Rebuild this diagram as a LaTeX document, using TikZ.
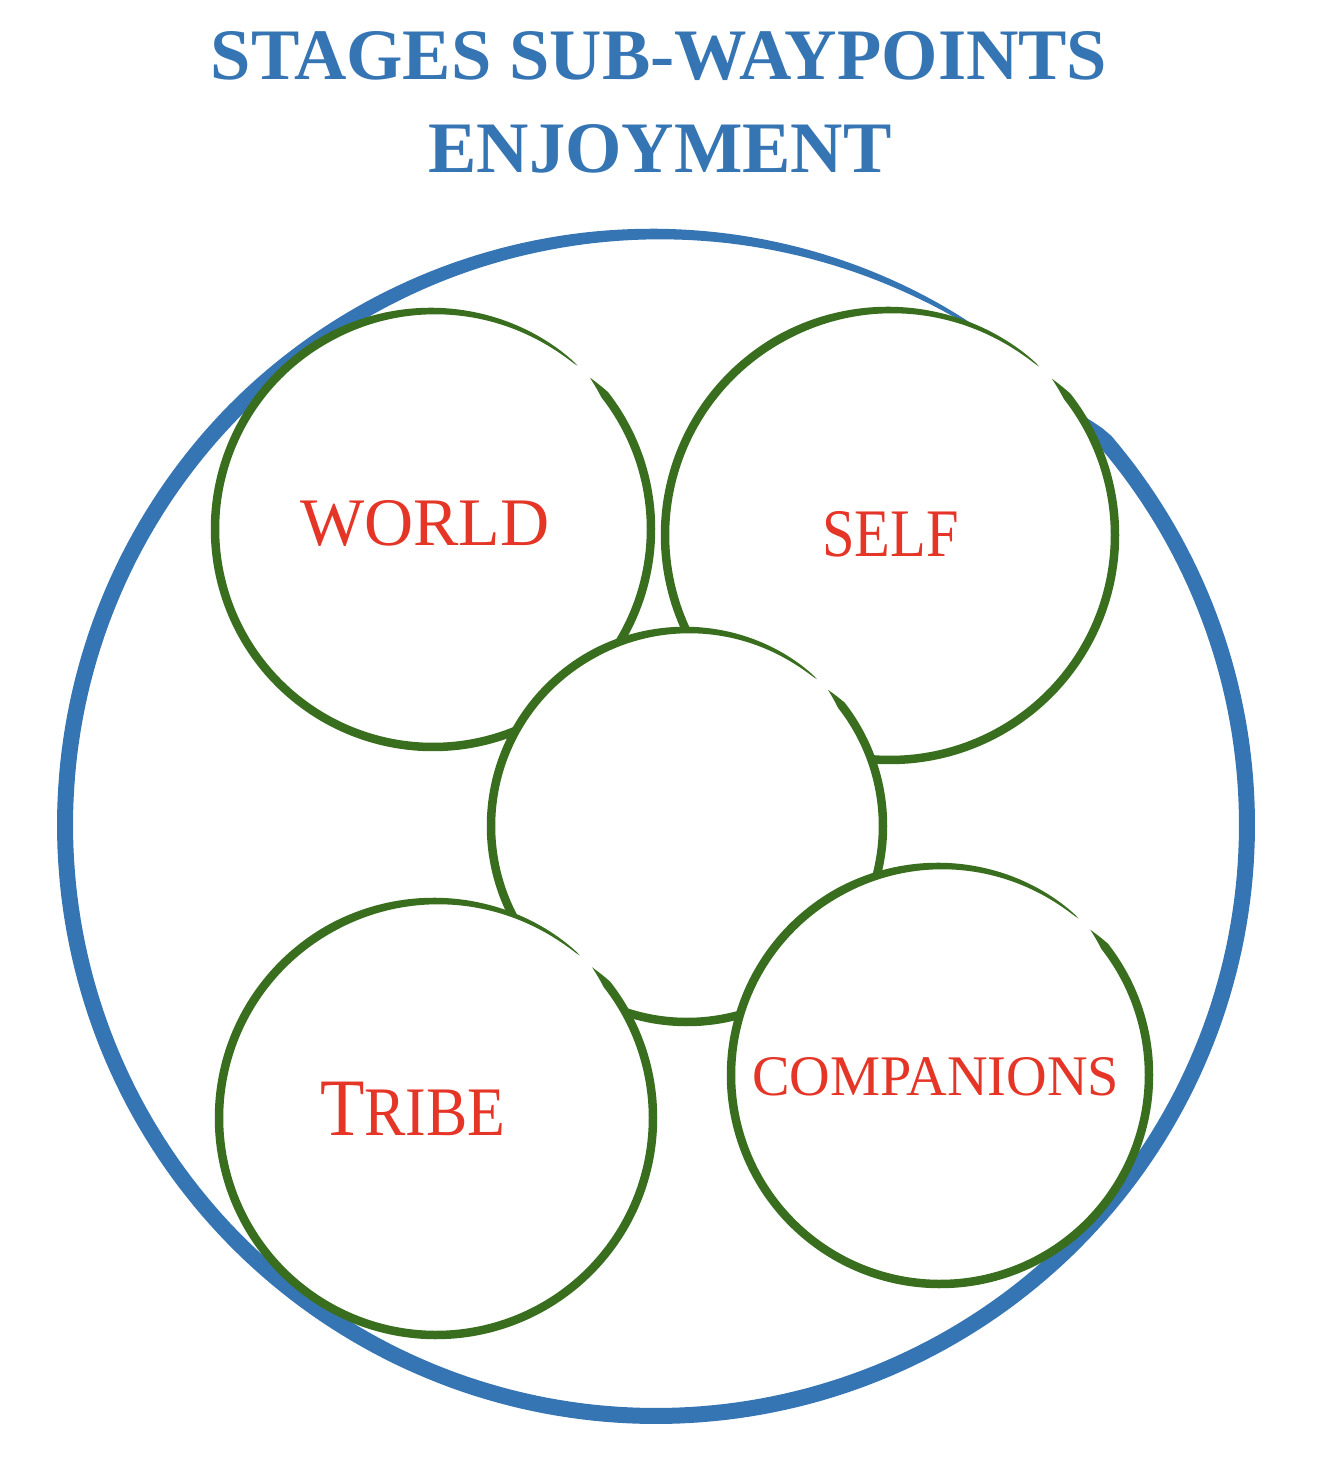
\documentclass[tikz,border=0pt]{standalone}
\usepackage{fontspec}
\setmainfont{Liberation Serif}
\definecolor{ringblue}{RGB}{54,117,179}
\definecolor{ringgreen}{RGB}{57,110,31}
\definecolor{labelred}{RGB}{228,53,39}
% #1 cx, #2 cy, #3 radius, #4 max width, #5 arc length (deg), #6 end taper (deg), #7 start taper (deg), #8 colour
\newcommand{\sketchring}[8]{%
  \fill[white] (#1,#2) circle[radius=#3pt];
  \fill[#8] plot[domain=0:#5, samples=300, variable=\u]
    ({#1+(#3+0.5*#4*min(1,\u/#7)*sqrt(max(0,min(1,(#5-\u)/#6))))*cos(44-\u)},
     {#2-(#3+0.5*#4*min(1,\u/#7)*sqrt(max(0,min(1,(#5-\u)/#6))))*sin(44-\u)})
    -- plot[domain=#5:0, samples=300, variable=\u]
    ({#1+(#3-0.5*#4*min(1,\u/#7)*sqrt(max(0,min(1,(#5-\u)/#6))))*cos(44-\u)},
     {#2-(#3-0.5*#4*min(1,\u/#7)*sqrt(max(0,min(1,(#5-\u)/#6))))*sin(44-\u)})
    -- cycle;
}
\begin{document}
\begin{tikzpicture}[x=1pt, y=-1pt,
  ttl/.style={text=ringblue, inner sep=0pt, anchor=base, font=\bfseries\fontsize{72.5}{72.5}\selectfont},
  lbl/.style={text=labelred, inner sep=0pt, anchor=base west}]
\useasboundingbox (0,0) rectangle (1342,1468);
% title
\node[ttl] (title1) at (659,79) {STAGES SUB-WAYPOINTS};
\node[ttl] (title2) at (660,172) {ENJOYMENT};
% circles (back to front)
\coordinate (outerc) at (656,825);
\coordinate (worldc) at (433,529);
\coordinate (selfc) at (890,535);
\coordinate (centerc) at (687,826);
\coordinate (tribec) at (436,1118);
\coordinate (compc) at (940,1075);
\sketchring{656}{825}{591}{16}{349}{80}{3}{ringblue}
\sketchring{433}{529}{218}{8.5}{355.5}{70}{6}{ringgreen}
\sketchring{890}{535}{225}{8.5}{355.5}{70}{6}{ringgreen}
\sketchring{687}{826}{196}{8.5}{355.5}{70}{6}{ringgreen}
\sketchring{436}{1118}{217}{8.5}{355.5}{70}{6}{ringgreen}
\sketchring{940}{1075}{209}{8.5}{355.5}{70}{6}{ringgreen}
% labels
\node[lbl] (world) at (300,545) {\fontsize{68}{68}\selectfont WORLD};
\node[lbl] (self) at (822,556) {\scalebox{0.86}[1]{\fontsize{68}{68}\selectfont SELF}};
\node[lbl] (tribe) at (320,1135) {\scalebox{0.89}[1]{\fontsize{81.6}{81.6}\selectfont T\fontsize{69.5}{69.5}\selectfont RIBE}};
\node[lbl] (companions) at (752,1095) {\scalebox{0.98}[1]{\fontsize{57.4}{57.4}\selectfont COMPANIONS}};
\end{tikzpicture}
\end{document}
